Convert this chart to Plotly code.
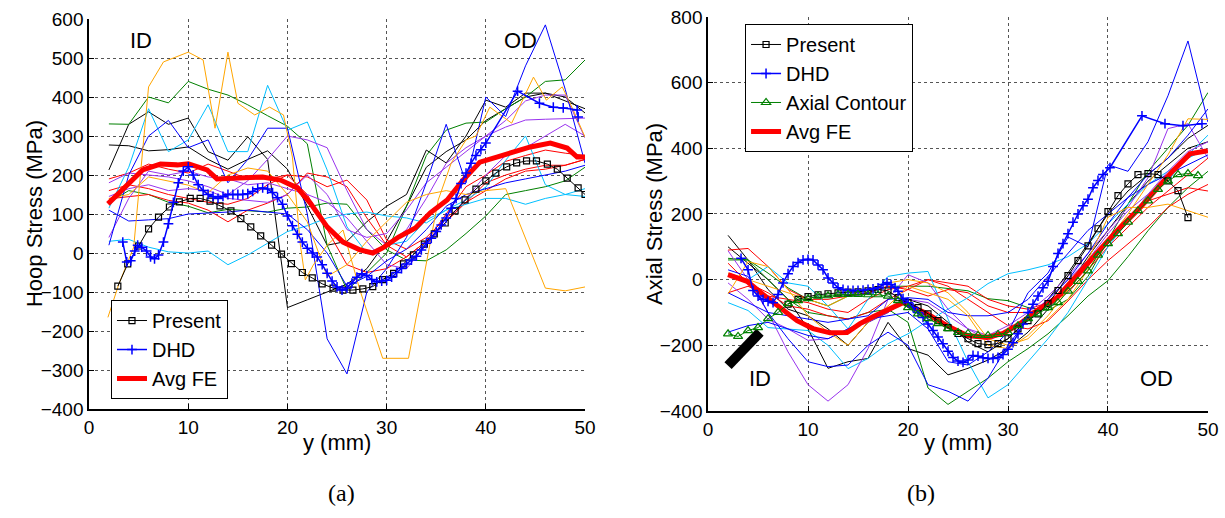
import plotly.graph_objects as go

# ---------------- hoop stress (panel a) ----------------
fe_x = [2, 4, 6, 8, 10, 12, 14, 16, 18, 20, 22, 24, 26, 28, 30, 32, 34, 36, 38, 40, 42, 44, 46, 48, 50]

hoop_black_1 = [213, 330, 362, 330, 346, 260, 238, 298, 240, -140, -120, -100, -80, -40, 30, 120, 220, 260, 290, 340, 370, 400, 410, 390, 370]
hoop_black_2 = [277, 275, 262, 265, 272, 240, 215, 240, 262, 215, 120, 20, 30, 80, 120, 150, 264, 231, 300, 392, 374, 410, 410, 400, 359]
hoop_green_1 = [331, 330, 400, 385, 440, 420, 405, 380, 352, 325, 280, 20, -95, -50, 0, 120, 250, 315, 333, 336, 370, 400, 440, 444, 495]
hoop_green_2 = [130, 160, 150, 130, 120, 103, 112, 108, 105, 115, 118, 128, 125, 60, 8, -18, -20, 8, 50, 95, 150, 160, 170, 185, 220]
hoop_red_1 = [190, 205, 228, 215, 205, 228, 210, 190, 190, 200, 195, 170, 187, 136, 33, 10, 40, 90, 130, 160, 190, 210, 215, 225, 240]
hoop_red_2 = [139, 145, 150, 135, 128, 110, 80, 110, 128, 150, 205, 195, 170, 90, 20, -10, 30, 100, 170, 200, 235, 250, 264, 256, 250]
hoop_red_3 = [160, 175, 165, 150, 140, 130, 125, 140, 175, 200, 150, 60, -30, -50, -40, -10, 30, 80, 130, 180, 200, 215, 225, 225, 240]
hoop_cyan_1 = [115, 220, 370, 260, 290, 380, 260, 260, 430, 315, 336, 213, 67, 0, 20, 30, 85, 110, 136, 169, 238, 300, 175, 150, 145]
hoop_cyan_2 = [30, 35, 15, 3, 0, 5, -30, -5, 25, 55, 70, 90, 100, 105, 95, 90, 77, 110, 125, 140, 140, 125, 140, 150, 165]
hoop_purple_1 = [180, 205, 200, 195, 185, 170, 150, 185, 240, 300, 290, 270, 160, 60, 20, 60, 140, 230, 270, 300, 340, 390, 405, 405, 295]
hoop_purple_2 = [145, 165, 175, 160, 165, 160, 140, 135, 130, 150, 200, 150, 60, 40, 50, 110, 180, 220, 260, 300, 323, 341, 343, 345, 346]
hoop_purple_3 = [40, 140, 210, 200, 210, 195, 190, 175, 180, 165, 150, 130, 90, 30, -30, -40, 20, 80, 140, 200, 250, 270, 300, 330, 300]
hoop_blue_1 = [110, 82, 85, 88, 100, 102, 105, 110, 105, 100, 60, 0, -85, -60, -20, 10, 60, 120, 150, 165, 180, 190, 200, 210, 225]
hoop_blue_2 = [20, 200, 300, 340, 270, 290, 180, 240, 320, 320, 100, -220, -310, -100, -40, 40, 180, 330, 180, 400, 350, 480, 585, 420, 230]
hoop_orange_2 = [140, 150, 195, 185, 174, 154, 200, 218, 210, 150, 80, -60, -30, 30, 80, 130, 150, 160, 150, 160, 165, 40, -90, -97, -87]

hoop_orange_1_x = [1.9, 3.0, 4.5, 6.0, 7.5, 10.0, 11.5, 12.7, 14.0, 15.0, 16.7, 18.2, 19.6, 20.5, 21.3, 21.8, 22.6,
                   24.0, 25.6, 27.3, 29.6, 32.2, 35.2, 36.5, 38.0, 39.0, 40.4, 42.6, 44.8, 46.1, 47.7, 48.8, 50.0]
hoop_orange_1 = [-165, -80, 15, 426, 490, 515, 495, 320, 515, 384, 354, 374, 354, 246, 21, -69, -31,
                 20, 59, -95, -270, -270, 136, 230, 290, 300, 374, 333, 451, 392, 426, 367, 297]

hoop_present_x = [2.9, 3.9, 5.0, 6.0, 7.0, 8.1, 9.1, 10.2, 11.2, 12.2, 13.2, 14.3, 15.3, 16.3, 17.3, 18.4, 19.4, 20.4,
                  21.5, 22.5, 23.5, 24.6, 25.6, 26.6, 27.6, 28.6, 29.6, 30.7, 31.7, 32.7, 33.8, 34.8, 35.9, 36.9,
                  37.9, 39.0, 40.0, 41.0, 42.1, 43.1, 44.1, 45.1, 46.2, 47.2, 48.2, 49.3, 50.0]
hoop_present = [-85, -28, 18, 62, 92, 118, 131, 140, 140, 133, 121, 108, 88, 67, 44, 20, -3, -27,
                -50, -64, -79, -90, -95, -95, -92, -86, -68, -52, -28, -5, 23, 49, 77, 108,
                136, 164, 185, 205, 221, 231, 236, 236, 228, 215, 192, 167, 150]

hoop_dhd_x = [3.4, 3.8, 4.2, 4.6, 4.9, 5.3, 5.8, 6.2, 6.6, 7.0, 7.5, 8.0, 8.5, 9.0, 9.5, 10.0, 10.5, 11.0, 11.5,
              12.0, 12.5, 13.0, 13.5, 14.0, 14.5, 15.0, 15.5, 16.0, 16.5, 17.0, 17.5, 18.0, 18.5, 19.0, 19.5,
              20.0, 20.5, 21.0, 21.5, 22.0, 22.5, 23.0, 23.5, 24.0, 24.5, 25.0, 25.5, 26.0, 26.5, 27.0, 27.5,
              28.0, 28.5, 29.0, 29.5, 30.0, 30.5, 31.0, 31.5, 32.0, 32.5, 33.0, 33.5, 34.0, 34.5, 35.0, 35.5,
              36.0, 36.5, 37.0, 37.5, 38.0, 38.5, 39.0, 39.5, 40.0, 43.2, 45.4, 46.8, 47.8, 49.2, 49.3]
hoop_dhd = [28, -23, -20, 5, 20, 15, 5, -10, -15, -5, 28, 75, 130, 180, 210, 221, 200, 175, 160,
            150, 145, 140, 145, 150, 150, 150, 150, 152, 158, 165, 167, 164, 155, 142, 125,
            95, 70, 48, 28, 12, 0, -10, -30, -52, -72, -87, -95, -90, -77, -62, -53,
            -58, -68, -74, -72, -70, -62, -50, -40, -28, -18, -8, 8, 25, 38, 55, 72,
            90, 115, 140, 178, 205, 230, 250, 265, 282, 415, 384, 374, 372, 367, 349]

hoop_avg_x = [1.9, 3.8, 5.4, 7.2, 8.9, 10.0, 11.9, 12.9, 15.0, 17.5, 19.3, 21.0, 22.3, 24.0, 25.6, 27.3, 28.6,
              29.6, 31.2, 32.9, 34.4, 36.1, 37.7, 39.4, 41.1, 42.7, 44.5, 46.5, 48.2, 49.2, 50.0]
hoop_avg = [126, 174, 213, 228, 226, 229, 213, 190, 192, 195, 187, 167, 128, 67, 28, 8, 0,
            13, 41, 64, 103, 136, 187, 233, 246, 259, 272, 282, 269, 246, 246]

# ---------------- axial stress (panel b) ----------------
ax_black_1 = [135, 60, -30, -90, -110, -150, -200, -130, -100, -60, -80, -130, -190, -220, -180, -120, -60, 20, 110, 200, 270, 320, 370, 430, 470]
ax_black_2 = [100, 50, 0, -60, -150, -270, -250, -240, -130, -210, -230, -290, -270, -245, -210, -160, -90, -20, 70, 150, 230, 300, 350, 400, 420]
ax_green_1 = [60, 60, 0, -60, -100, -110, -120, -100, -90, -130, -330, -380, -340, -300, -250, -210, -165, -110, -50, -3, 70, 149, 220, 280, 330]
ax_green_2 = [65, 60, 20, -25, -60, -80, -50, -40, -20, -20, -20, -27, -34, -58, -64, -85, -94, -60, 10, 120, 230, 330, 400, 470, 570]
ax_red_1 = [90, 95, 40, -30, -60, -60, -50, -40, -20, -30, -50, -30, -40, -80, -100, -100, -80, -30, 40, 120, 180, 240, 260, 280, 270]
ax_red_2 = [50, -10, -40, -80, -90, -110, -120, -100, -60, -30, 0, -20, -60, -100, -140, -150, -125, -65, 0, 58, 110, 160, 220, 260, 290]
ax_red_3 = [-40, -20, -50, -60, -70, -90, -100, -60, -30, -20, 0, -10, -20, -60, -80, -90, -70, -40, 30, 100, 160, 220, 270, 320, 370]
ax_cyan_1 = [-70, -94, -146, -150, -155, -200, -271, -240, -195, -165, -125, -90, -55, -12, 18, 30, 45, 70, 110, 170, 230, 290, 330, 370, 400]
ax_cyan_2 = [10, 0, 40, -10, -20, -80, -150, -60, 10, 20, 25, -120, -250, -360, -320, -250, -180, -100, 0, 100, 180, 260, 300, 380, 440]
ax_purple_1 = [88, 0, -100, -220, -320, -370, -320, -210, -60, 15, -10, -90, -150, -185, -160, -110, -60, 0, 60, 140, 210, 260, 330, 390, 420]
ax_purple_2 = [-10, -60, -120, -150, -185, -180, -150, -130, -100, -60, -70, -110, -150, -170, -140, -100, -50, 10, 80, 150, 220, 310, 460, 475, 370]
ax_blue_1 = [-160, -140, -130, -150, -170, -180, -150, -120, -110, -100, -150, -250, -260, -220, -160, -40, 20, 130, 100, 350, 330, 420, 560, 727, 480]
ax_blue_2 = [30, 10, -100, -180, -250, -265, -260, -200, -160, -200, -320, -340, -370, -300, -200, -120, -60, 0, 80, 170, 250, 320, 370, 440, 520]
ax_blue_3 = [-40, -70, -100, -110, -120, -130, -120, -110, -60, -55, -60, -100, -110, -110, -100, -60, 10, 80, 150, 200, 250, 290, 320, 350, 380]
ax_orange_1 = [-43, 55, 40, -30, -110, -160, -200, -130, -80, -20, -40, -60, -110, -200, -210, -170, -110, -30, 60, 190, 220, 220, 230, 210, 190]
ax_orange_2 = [20, 0, -20, -40, -60, -80, -50, -30, -10, 0, -10, -40, -100, -180, -200, -180, -120, -60, 30, 120, 200, 290, 380, 490, 488]

ax_present_x = list(range(8, 49))
ax_present = [-75, -60, -52, -46, -43, -40, -38, -37, -34, -30, -34, -55, -70, -85, -104, -125, -146, -164, -180, -195,
              -198, -195, -180, -150, -125, -104, -73, -33, 12, 58, 103, 155, 207, 256, 292, 320, 323, 320, 301, 271, 189]

ax_dhd_x = [3.3, 4.0, 4.5, 5.0, 5.5, 6.0, 6.5, 7.0, 7.5, 8.0, 8.5, 9.0, 9.5, 10.0, 10.5, 11.0, 11.5, 12.0, 12.5,
            13.0, 13.5, 14.0, 14.5, 15.0, 15.5, 16.0, 16.5, 17.0, 17.5, 17.9, 18.3, 18.7, 19.0, 19.5, 20.0, 20.5,
            21.0, 21.5, 22.0, 22.5, 23.0, 23.5, 24.0, 24.5, 25.0, 25.5, 26.0, 26.5, 27.0, 27.5, 28.0, 28.5, 29.0,
            29.5, 30.0, 30.5, 31.0, 31.5, 32.0, 32.5, 33.0, 33.5, 34.0, 34.5, 35.0, 35.5, 36.0, 36.5, 37.0, 37.5,
            38.0, 38.5, 39.0, 39.5, 40.2, 43.4, 45.7, 47.5, 49.4]
ax_dhd = [65, 30, -33, -50, -60, -66, -70, -45, -10, 18, 40, 52, 60, 62, 60, 45, 30, 5, -10,
          -25, -30, -33, -33, -33, -32, -30, -28, -25, -15, -9, -15, -24, -35, -58, -70, -85,
          -100, -115, -135, -155, -175, -195, -218, -237, -248, -252, -245, -231, -233, -238, -240, -240, -237,
          -228, -212, -192, -165, -135, -100, -75, -50, -25, -5, 40, 80, 110, 140, 175, 200, 225,
          245, 280, 302, 320, 341, 499, 475, 469, 475]

ax_contour_x = list(range(2, 50))
ax_contour = [-165, -173, -155, -146, -119, -100, -73, -64, -58, -50, -49, -45, -45, -45, -46, -46, -50, -64, -85, -104,
              -119, -134, -149, -161, -164, -170, -170, -167, -161, -140, -119, -104, -85, -70, -35, -5, 27, 75, 110, 140,
              175, 210, 240, 275, 300, 320, 323, 317]

ax_avg_x = [2, 3.9, 5.5, 7.2, 8.9, 10.5, 12.2, 13.9, 15.2, 16.5, 17.9, 19.5, 21.9, 23.9, 25.9, 27.9, 29.5, 31.2,
            32.9, 34.9, 36.5, 38.2, 40.9, 43.2, 44.9, 46.5, 48.2, 50]
ax_avg = [15, -5, -45, -85, -125, -149, -162, -161, -134, -113, -94, -70, -104, -140, -170, -176, -164, -134,
          -94, -55, 0, 58, 149, 219, 280, 332, 383, 393]

# thick black stroke next to the ID label
id_stroke_x = [2.0, 5.2]
id_stroke_y = [-262, -160]

# ---------------- styling ----------------
BLACK = "#000000"
BLUE = "#0000ff"
GREEN = "#008000"
RED = "#ff0000"
CYAN = "#00bfff"
PURPLE = "#9933ee"
ORANGE = "#ffa500"
FONT = "Liberation Sans"

fig = go.Figure()


def thin(x, y, color, xa, ya):
    fig.add_trace(go.Scatter(x=x, y=y, mode="lines", line=dict(color=color, width=1),
                             showlegend=False, hoverinfo="skip", xaxis=xa, yaxis=ya))


hoop_lines = [
    (hoop_black_1, BLACK), (hoop_black_2, BLACK), (hoop_green_1, GREEN), (hoop_green_2, GREEN),
    (hoop_red_1, RED), (hoop_red_2, RED), (hoop_red_3, RED), (hoop_cyan_1, CYAN), (hoop_cyan_2, CYAN),
    (hoop_purple_1, PURPLE), (hoop_purple_2, PURPLE), (hoop_purple_3, PURPLE),
    (hoop_blue_1, BLUE), (hoop_blue_2, BLUE), (hoop_orange_2, ORANGE),
]
for vals, col in hoop_lines:
    thin(fe_x, vals, col, "x", "y")
thin(hoop_orange_1_x, hoop_orange_1, ORANGE, "x", "y")

axial_lines = [
    (ax_black_1, BLACK), (ax_black_2, BLACK), (ax_green_1, GREEN), (ax_green_2, GREEN),
    (ax_red_1, RED), (ax_red_2, RED), (ax_red_3, RED), (ax_cyan_1, CYAN), (ax_cyan_2, CYAN),
    (ax_purple_1, PURPLE), (ax_purple_2, PURPLE), (ax_blue_1, BLUE), (ax_blue_2, BLUE), (ax_blue_3, BLUE),
    (ax_orange_1, ORANGE), (ax_orange_2, ORANGE),
]
for vals, col in axial_lines:
    thin(fe_x, vals, col, "x2", "y2")

fig.add_trace(go.Scatter(x=id_stroke_x, y=id_stroke_y, mode="lines", line=dict(color=BLACK, width=10),
                         showlegend=False, xaxis="x2", yaxis="y2"))

present_marker = dict(symbol="square-open", size=6, color=BLACK, line=dict(width=1.2, color=BLACK))
dhd_marker = dict(symbol="cross-thin", size=7, color=BLUE, line=dict(width=1.5, color=BLUE))
contour_marker = dict(symbol="triangle-up-open", size=8, color=GREEN, line=dict(width=1.2, color=GREEN))

# panel (a) key series
fig.add_trace(go.Scatter(x=hoop_avg_x, y=hoop_avg, mode="lines", name="Avg FE", line=dict(color=RED, width=5),
                         legendrank=3, legend="legend", xaxis="x", yaxis="y"))
fig.add_trace(go.Scatter(x=hoop_present_x, y=hoop_present, mode="lines+markers", name="Present",
                         line=dict(color=BLACK, width=1), marker=present_marker,
                         legendrank=1, legend="legend", xaxis="x", yaxis="y"))
fig.add_trace(go.Scatter(x=hoop_dhd_x, y=hoop_dhd, mode="lines+markers", name="DHD",
                         line=dict(color=BLUE, width=1.5), marker=dhd_marker,
                         legendrank=2, legend="legend", xaxis="x", yaxis="y"))

# panel (b) key series
fig.add_trace(go.Scatter(x=ax_avg_x, y=ax_avg, mode="lines", name="Avg FE", line=dict(color=RED, width=5),
                         legendrank=4, legend="legend2", xaxis="x2", yaxis="y2"))
fig.add_trace(go.Scatter(x=ax_present_x, y=ax_present, mode="lines+markers", name="Present",
                         line=dict(color=BLACK, width=1), marker=present_marker,
                         legendrank=1, legend="legend2", xaxis="x2", yaxis="y2"))
fig.add_trace(go.Scatter(x=ax_dhd_x, y=ax_dhd, mode="lines+markers", name="DHD",
                         line=dict(color=BLUE, width=1.5), marker=dhd_marker,
                         legendrank=2, legend="legend2", xaxis="x2", yaxis="y2"))
fig.add_trace(go.Scatter(x=ax_contour_x, y=ax_contour, mode="lines+markers", name="Axial Contour",
                         line=dict(color=GREEN, width=1), marker=contour_marker,
                         legendrank=3, legend="legend2", xaxis="x2", yaxis="y2"))

axis_common = dict(
    showline=True, linecolor=BLACK, linewidth=1.5, ticks="inside", ticklen=5, tickcolor=BLACK,
    showgrid=True, gridcolor="#555555", griddash="dot", gridwidth=1, zeroline=False,
    tickfont=dict(family=FONT, size=19, color=BLACK), mirror=False, automargin=False,
)

fig.update_layout(
    width=1225, height=518, margin=dict(l=0, r=0, t=0, b=0, autoexpand=False),
    paper_bgcolor="white", plot_bgcolor="white",
    font=dict(family=FONT, color=BLACK),
    xaxis=dict(domain=[0.0727, 0.4776], range=[0, 50], tickvals=[0, 10, 20, 30, 40, 50], anchor="y", **axis_common),
    yaxis=dict(domain=[0.2104, 0.9633], range=[-400, 600], tickvals=list(range(-400, 601, 100)), anchor="x", **axis_common),
    xaxis2=dict(domain=[0.5780, 0.9861], range=[0, 50], tickvals=[0, 10, 20, 30, 40, 50], anchor="y2", **axis_common),
    yaxis2=dict(domain=[0.2066, 0.9672], range=[-400, 800], tickvals=list(range(-400, 801, 200)), anchor="x2", **axis_common),
    legend=dict(x=0.0906, y=0.4208, xanchor="left", yanchor="top", bgcolor="white", bordercolor=BLACK,
                borderwidth=1, font=dict(family=FONT, size=20, color=BLACK), tracegroupgap=0, itemwidth=30),
    legend2=dict(x=0.6082, y=0.9537, xanchor="left", yanchor="top", bgcolor="white", bordercolor=BLACK,
                 borderwidth=1, font=dict(family=FONT, size=20, color=BLACK), tracegroupgap=0, itemwidth=30),
    showlegend=True,
)

label_font = dict(family=FONT, size=22, color=BLACK)
title_font = dict(family=FONT, size=22, color=BLACK)
serif_font = dict(family="Liberation Serif", size=24, color=BLACK)


def note(text, x, y, xref, yref, font, angle=0):
    return dict(text=text, x=x, y=y, xref=xref, yref=yref, showarrow=False, font=font,
                textangle=angle, xanchor="center", yanchor="middle")


annotations = [
    note("ID", 5.2, 546, "x", "y", label_font),
    note("OD", 43.5, 546, "x", "y", label_font),
    note("ID", 5.2, -301, "x2", "y2", label_font),
    note("OD", 44.9, -301, "x2", "y2", label_font),
    note("y (mm)", 0.2751, 0.1467, "paper", "paper", title_font),
    note("y (mm)", 0.7820, 0.1467, "paper", "paper", title_font),
    note("Hoop Stress (MPa)", 0.0286, 0.5869, "paper", "paper", title_font, -90),
    note("Axial Stress (MPa)", 0.5347, 0.5869, "paper", "paper", title_font, -90),
    note("(a)", 0.2784, 0.0483, "paper", "paper", serif_font),
    note("(b)", 0.7518, 0.0483, "paper", "paper", serif_font),
]
fig.update_layout(annotations=annotations)

fig.write_html("out.html")
